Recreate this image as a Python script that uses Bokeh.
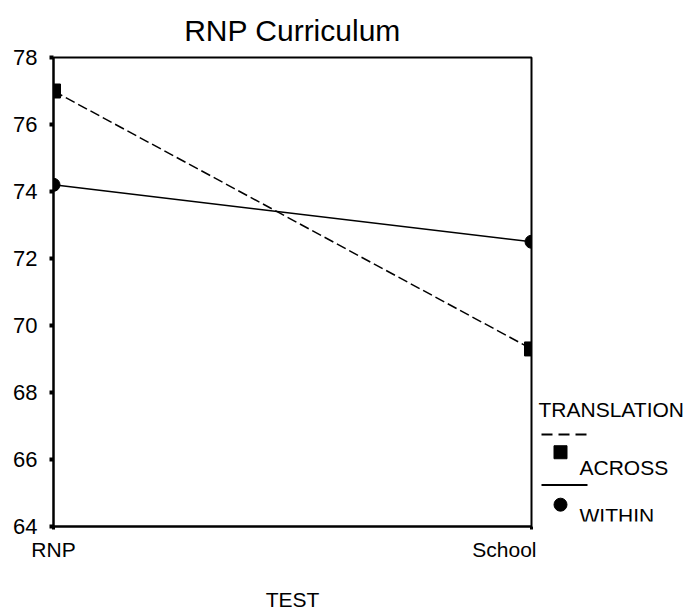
from bokeh.plotting import figure
from bokeh.models import Range1d, FixedTicker, Label
from bokeh.layouts import row
from bokeh.core.properties import value
from bokeh.embed import file_html
from bokeh.resources import INLINE

# ---- data ----
tests = ["RNP", "School"]
across = [77.0, 69.3]
within = [74.2, 72.5]
y_ticks = [64, 66, 68, 70, 72, 74, 76, 78]
title_text = "RNP Curriculum"
x_title = "TEST"
legend_title = "TRANSLATION"
series_names = ["ACROSS", "WITHIN"]

FONT = "Liberation Sans"
xs = list(range(len(tests)))

p = figure(width=536, height=608, output_backend="svg", toolbar_location=None,
           x_range=Range1d(0, len(tests) - 1), y_range=Range1d(y_ticks[0], y_ticks[-1]),
           min_border_left=53, min_border_right=5, min_border_top=56, min_border_bottom=83,
           frame_width=478, frame_height=469)
p.title.text = title_text
p.title.text_font = FONT
p.title.text_font_size = "30px"
p.title.text_font_style = "normal"
p.title.align = "center"
p.title.text_color = "black"
p.title.standoff = 22

p.outline_line_color = "black"
p.outline_line_width = 2
p.grid.visible = False
p.background_fill_color = "white"
p.border_fill_color = "white"

p.yaxis.ticker = FixedTicker(ticks=y_ticks)
p.xaxis.ticker = FixedTicker(ticks=xs)
p.xaxis.major_label_overrides = {i: t for i, t in enumerate(tests)}
for ax in (p.xaxis, p.yaxis):
    ax.axis_line_width = 2
    ax.axis_line_color = "black"
    ax.minor_tick_line_color = None
    ax.major_tick_in = 0
    ax.major_label_text_font = FONT
    ax.major_label_text_font_size = "21px"
    ax.major_label_text_color = "black"
p.yaxis.major_label_text_font_size = "22px"
p.yaxis.major_tick_out = 4
p.yaxis.major_tick_line_width = 4
p.yaxis.major_label_standoff = 12
p.xaxis.major_tick_out = 3
p.xaxis.major_tick_line_width = 3
p.xaxis.major_label_standoff = 8
p.xaxis.axis_label = x_title
p.xaxis.axis_label_text_font = FONT
p.xaxis.axis_label_text_font_size = "21px"
p.xaxis.axis_label_text_font_style = "normal"
p.xaxis.axis_label_text_color = "black"
p.xaxis.axis_label_standoff = 24

p.line(xs, across, line_color="black", line_width=1.5, line_dash="10 4")
p.line(xs, within, line_color="black", line_width=1.5)
p.scatter(xs, across, marker="square", size=14, fill_color="black", line_color="black")
p.scatter(xs, within, marker="circle", size=13, fill_color="black", line_color="black")

# ---- legend panel (its frame is aligned with the main frame; coordinates in page pixels) ----
leg = figure(width=156, height=608, output_backend="svg", toolbar_location=None,
             x_range=Range1d(536, 692), y_range=Range1d(525, 56),
             x_axis_location=None, y_axis_location=None,
             min_border=0)
leg.outline_line_color = None
leg.grid.visible = False
leg.border_fill_color = "white"
leg.add_layout(Label(x=538, y=412, text=legend_title, text_font=FONT, text_font_size="21px",
                     text_baseline="middle", text_align="left", text_color="black"))
leg.line([541, 586], [437, 437], line_color="black", line_width=2, line_dash="11 6")
leg.scatter([560], [455], marker="square", size=13, fill_color="black", line_color="black")
leg.line([541, 587], [488, 488], line_color="black", line_width=2)
leg.scatter([560], [508], marker="circle", size=13, fill_color="black", line_color="black")
for name, yy in zip(series_names, [470, 519]):
    leg.add_layout(Label(x=579, y=yy, text=name, text_font=FONT, text_font_size="21px",
                         text_baseline="middle", text_align="left", text_color="black"))

layout = row(p, leg)
open("out.html", "w").write(file_html(layout, INLINE))
